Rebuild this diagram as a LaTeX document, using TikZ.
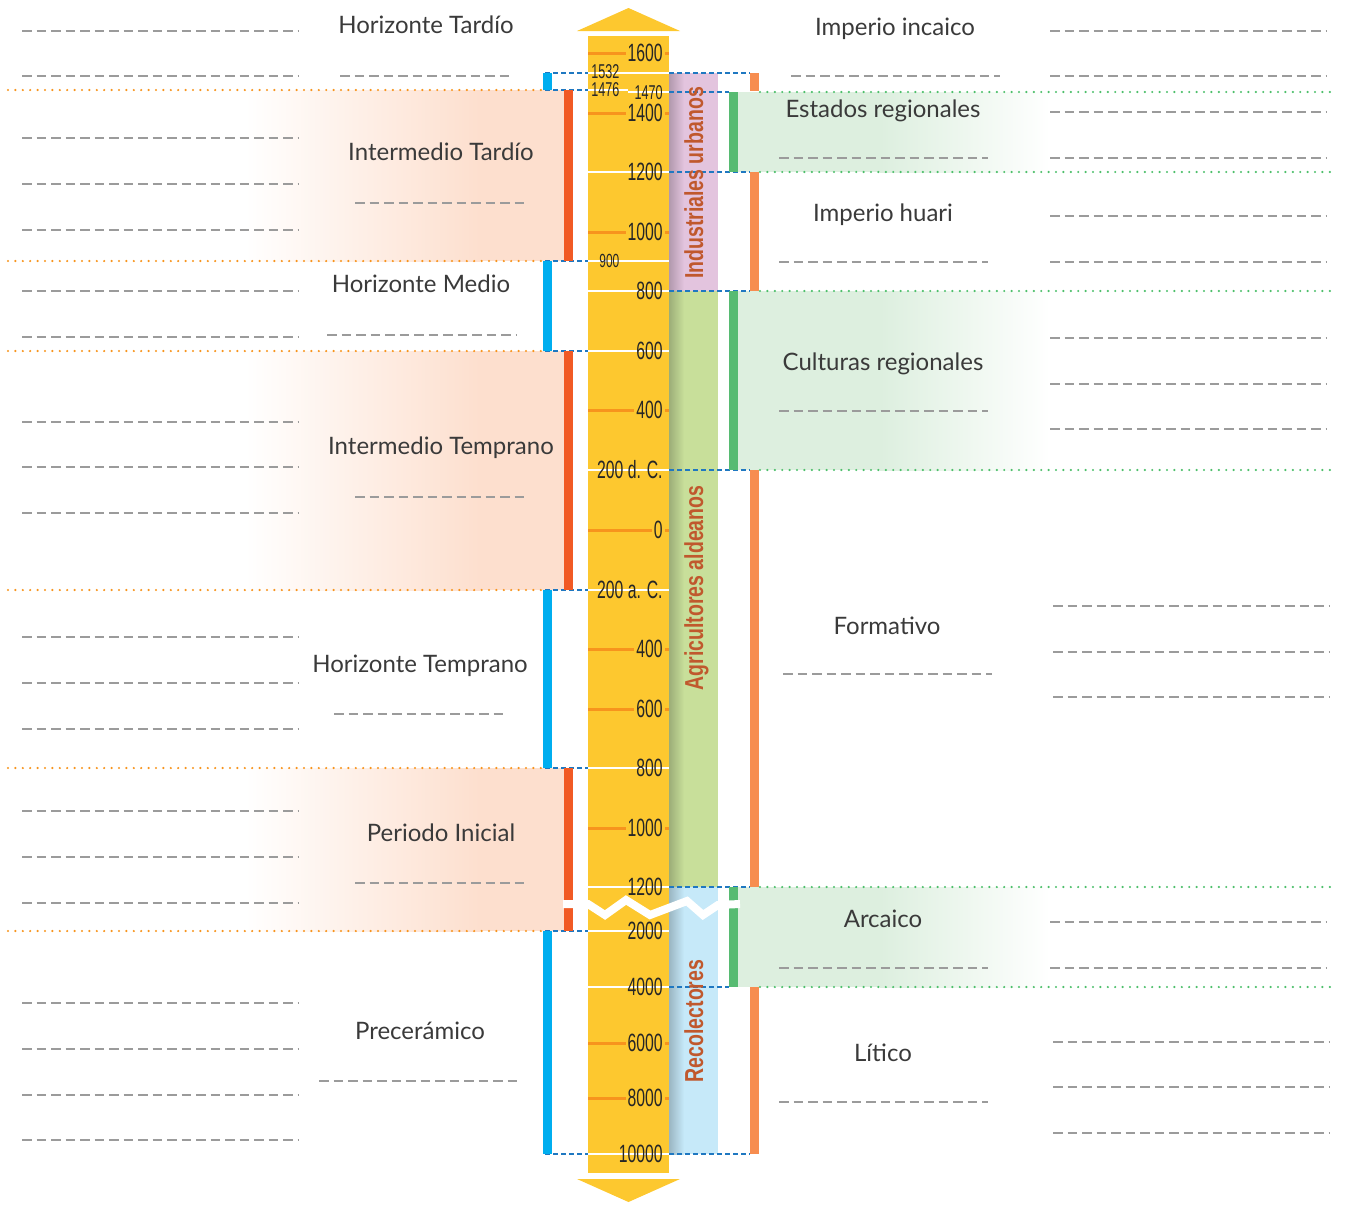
\documentclass[tikz,border=0pt]{standalone}
\usepackage{fontspec}
\setmainfont{Lato}
\newfontfamily\numfont[FakeStretch=0.63]{Liberation Sans}
\newfontfamily\grpfont[FakeStretch=0.75]{Liberation Sans Bold}
\definecolor{yel}{HTML}{FDC82F}
\definecolor{tickorange}{HTML}{F7941D}
\definecolor{hblue}{HTML}{00AEEF}
\definecolor{ired}{HTML}{F15A24}
\definecolor{rorange}{HTML}{F78D50}
\definecolor{rgreen}{HTML}{57BB72}
\definecolor{dotgreen}{HTML}{4DBF6A}
\definecolor{peach}{HTML}{FDDFCE}
\definecolor{mint}{HTML}{DDEFDF}
\definecolor{lilac}{HTML}{E3C4DE}
\definecolor{leaf}{HTML}{C8DF9A}
\definecolor{sky}{HTML}{C6E9F9}
\definecolor{rust}{HTML}{C0582D}
\definecolor{linkblue}{HTML}{1F78C1}
\definecolor{ansgray}{HTML}{9B9B9B}
\definecolor{ink}{HTML}{3A3A3A}
\definecolor{numink}{HTML}{262626}
\tikzset{
  answer/.style={draw=ansgray,line width=1pt,dash pattern=on 4.75pt off 2.5pt},
  dotrow/.style={line width=1.2pt,line cap=round,dash pattern=on 0pt off 3.7pt},
  linkdash/.style={draw=linkblue,line width=0.65pt,dash pattern=on 2.5pt off 1.5pt},
  era/.style={text=ink,font=\fontsize{12}{14}\selectfont,inner sep=0pt,anchor=base},
  yr/.style={text=numink,font=\numfont\fontsize{12.5}{13}\selectfont,inner xsep=1pt,inner ysep=0pt},
  smallyr/.style={yr,font=\numfont\fontsize{10}{11}\selectfont},
  grp/.style={text=rust,font=\grpfont\fontsize{13}{14}\selectfont,rotate=90,anchor=base,inner sep=0pt}
}
\begin{document}
\begin{tikzpicture}[x=0.5pt,y=-0.5pt]
\useasboundingbox (0,0) rectangle (1350,1205);
\foreach \a/\b in {90/261,351/590,768/931}{
  \shade[left color=white,right color=peach] (245,\a) rectangle (480,\b);
  \fill[peach] (479,\a) rectangle (564,\b);
  \draw[tickorange,dotrow] (8,\a) -- (545,\a) (8,\b) -- (545,\b);}
\foreach \a/\b in {92/172,291/470,887/987}{
  \fill[mint] (738,\a) rectangle (881,\b);
  \shade[left color=mint,right color=white] (880,\a) rectangle (1050,\b);
  \draw[dotgreen,dotrow] (760,\a) -- (1330,\a) (760,\b) -- (1330,\b);}
\fill[yel] (588,36) rectangle (669,1173);
\fill[yel] (577,31) -- (628.5,8) -- (680,31) -- cycle;
\fill[yel] (577,1179) -- (628.5,1202) -- (680,1179) -- cycle;
\foreach \a/\b/\c in {73/291/lilac,291/887/leaf,887/1154/sky}{
  \fill[\c] (669,\a) rectangle (718,\b);
  \shade[left color=\c!78!black,right color=\c] (669,\a) rectangle (684,\b);}
\foreach \y in {73,90,261,351,590,768,931,1154} \draw[linkdash] (545,\y) -- (588,\y);
\foreach \y in {73,172,291,470,887,1154} \draw[linkdash] (669,\y) -- (750,\y);
\foreach \y in {92,987} \draw[linkdash] (669,\y) -- (729,\y);
\foreach \a/\b in {73/90,261/351,590/768,931/1154} \fill[hblue] (543,\a) rectangle (552,\b);
\foreach \a/\b in {90/261,351/590,768/931} \fill[ired] (564,\a) rectangle (573,\b);
\foreach \a/\b in {73/91,172/291,470/887,987/1154} \fill[rorange] (750,\a) rectangle (759,\b);
\foreach \a/\b in {92/172,291/470,887/987} \fill[rgreen] (729,\a) rectangle (738,\b);
\foreach \y in {73,172,261,291,351,470,590,768,887,931,987,1154} \draw[white,line width=1pt] (588,\y) -- (669,\y);
\draw[white,line width=1pt] (588,90) -- (628,90) (628,92) -- (669,92);
\foreach \y/\t [count=\i] in {53/1600,113/1400,232/1000,410/400,530/0,649/400,709/600,828/1000,1043/6000,1098/8000}{
  \draw[tickorange,line width=1.5pt] (588,\y) -- (669,\y);
  \node[yr,fill=yel,anchor=east] (t\i) at (665,\y) {\t};}
\foreach \y/\t [count=\i] in {172/1200,291/800,351/600,470/200 d. C.,590/200 a. C.,768/800,887/1200,931/2000,987/4000,1154/10000}
  \node[yr,anchor=east] (w\i) at (665,\y) {\t};
\node[smallyr,anchor=west] (y1532) at (589,72) {1532};
\node[smallyr,anchor=west] (y1476) at (589,90) {1476};
\node[smallyr,anchor=east] (y1470) at (665,93) {1470};
\node[smallyr,anchor=west,font=\numfont\fontsize{9.5}{10}\selectfont] (y900) at (597,261) {900};
\draw[white,line width=4pt] (563,904) -- (588,904) -- (605,915) -- (626,900) -- (650,915) -- (687,901) -- (703,915) -- (718,905) -- (740,904);
\node[grp] (urb) at (703,183) {Industriales urbanos};
\node[grp] (ald) at (703,588) {Agricultores aldeanos};
\node[grp] (rec) at (703,1021) {Recolectores};
\foreach \y in {31,76,138,184,230,291,337,422,467,513,637,683,729,811,857,903,1003,1049,1095,1140} \draw[answer] (22,\y) -- (298,\y);
\foreach \y in {31,76,112,158,216,262,338,384,429,922,968} \draw[answer] (1050,\y) -- (1327,\y);
\foreach \y in {606,652,697,1042,1087,1133} \draw[answer] (1053,\y) -- (1330,\y);
\foreach \a/\b/\y in {340/513/76,355/527/203,327/517/335,355/527/497,334/506/714,355/527/883,319/521/1081,791/1000/76,779/988/158,779/988/262,779/988/411,783/992/674,779/988/968,779/988/1102}
  \draw[answer] (\a,\y) -- (\b,\y);
\node[era] (htar) at (426,33) {Horizonte Tardío};
\node[era] (itar) at (441,160) {Intermedio Tardío};
\node[era] (hmed) at (421,292) {Horizonte Medio};
\node[era] (item) at (441,454) {Intermedio Temprano};
\node[era] (htem) at (420,672) {Horizonte Temprano};
\node[era] (pini) at (441,841) {Periodo Inicial};
\node[era] (prec) at (420,1039) {Precerámico};
\node[era] (inca) at (895,35) {Imperio incaico};
\node[era] (ereg) at (883,117) {Estados regionales};
\node[era] (huar) at (883,221) {Imperio huari};
\node[era] (creg) at (883,370) {Culturas regionales};
\node[era] (form) at (887,634) {Formativo};
\node[era] (arca) at (883,927) {Arcaico};
\node[era] (liti) at (883,1061) {Lítico};
\end{tikzpicture}
\end{document}
